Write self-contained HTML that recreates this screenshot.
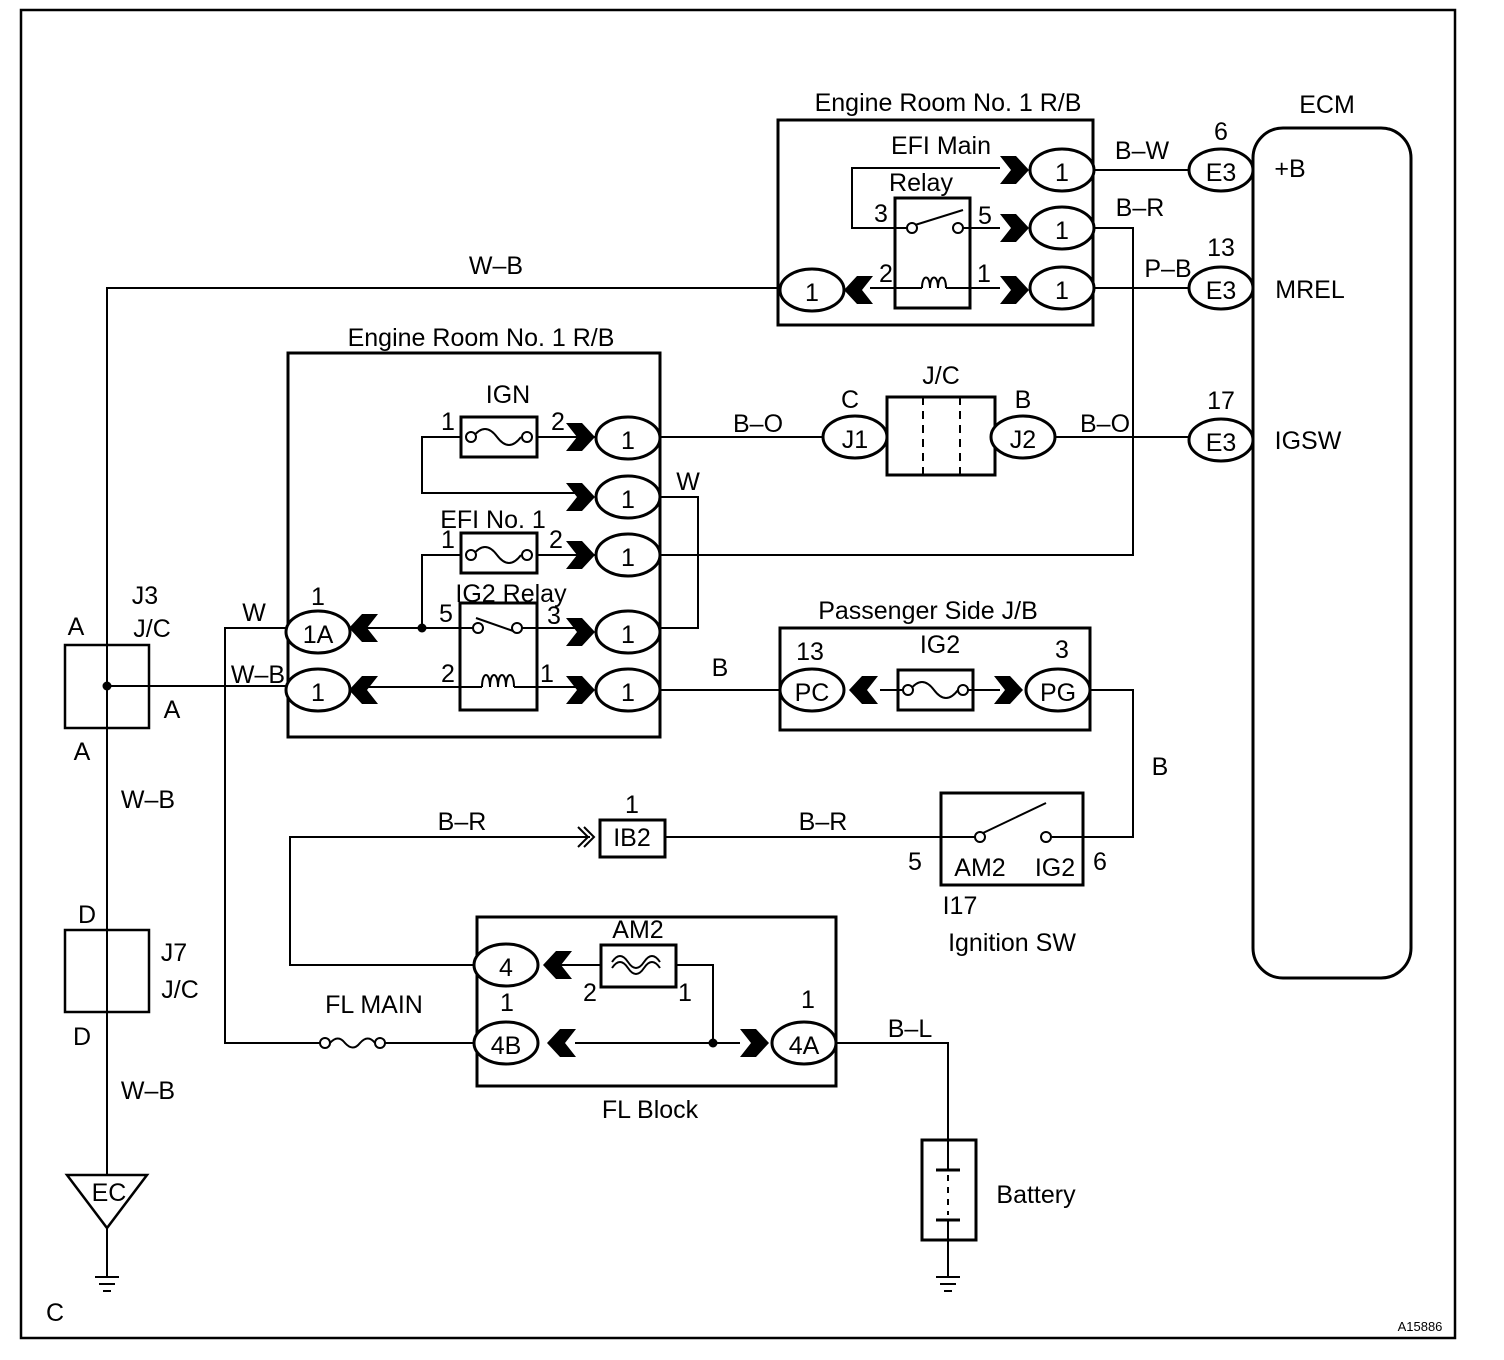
<!DOCTYPE html>
<html><head><meta charset="utf-8"><style>
body{margin:0;background:#fff}
svg{display:block}
text{font-family:"Liberation Sans",Arial,sans-serif;font-size:25px;fill:#000}
.t{text-anchor:middle}
</style></head><body>
<svg width="1504" height="1360" viewBox="0 0 1504 1360" xmlns="http://www.w3.org/2000/svg">
<defs>
<polygon id="cr" points="-16,-14 0,-14 13,0 0,14 -16,14 -5,0" fill="#000"/>
<polygon id="cl" points="16,-14 0,-14 -13,0 0,14 16,14 5,0" fill="#000"/>
<ellipse id="ov" cx="0" cy="0" rx="32" ry="21" fill="#fff" stroke="#000" stroke-width="3"/>
</defs>
<g fill="none" stroke="#000" stroke-width="2">
<rect x="21" y="10" width="1434" height="1328" stroke-width="2.5"/>
<rect x="778" y="120" width="315" height="205" stroke-width="3"/>
<rect x="895" y="198" width="75" height="110" stroke-width="3"/>
<polyline points="1000,168 852,168 852,228 907,228"/>
<line x1="963" y1="228" x2="1000" y2="228"/>
<line x1="915" y1="225" x2="963" y2="210"/>
<polyline points="870,288 922,288"/><polyline points="946,288 1000,288"/>
<path d="M922,288 c0,-14 8,-14 8,0 c0,-14 8,-14 8,0 c0,-14 8,-14 8,0"/>
<line x1="1093" y1="170" x2="1190" y2="170"/>
<polyline points="1093,228 1133,228 1133,555 660,555"/>
<line x1="1093" y1="288" x2="1190" y2="288"/>
<rect x="1253" y="128" width="158" height="850" rx="30" stroke-width="3"/>
<polyline points="780,288 107,288 107,1175"/>
<rect x="288" y="353" width="372" height="384" stroke-width="3"/>
<rect x="461" y="417" width="76" height="40" stroke-width="3"/>
<rect x="461" y="533" width="76" height="40" stroke-width="3"/>
<rect x="460" y="603" width="77" height="107" stroke-width="3"/>
<polyline points="600,437 537,437"/><polyline points="461,437 422,437 422,493 590,493"/>
<polyline points="600,555 537,555"/><polyline points="461,555 422,555 422,628 360,628"/>
<path d="M473,437 q12,-16 24,0 q12,16 24,0"/><path d="M473,555 q12,-16 24,0 q12,16 24,0"/>
<line x1="422" y1="628" x2="474" y2="628"/><line x1="522" y1="628" x2="590" y2="628"/>
<line x1="476" y1="618" x2="516" y2="632"/>
<line x1="360" y1="687" x2="482" y2="687"/><line x1="514" y1="687" x2="590" y2="687"/>
<path d="M482,687 c0,-16 8,-16 8,0 c0,-16 8,-16 8,0 c0,-16 8,-16 8,0 c0,-16 8,-16 8,0"/>
<polyline points="660,497 698,497 698,628 660,628"/>
<line x1="660" y1="437" x2="824" y2="437"/>
<rect x="887" y="397" width="108" height="78" stroke-width="3"/>
<line x1="923" y1="397" x2="923" y2="475" stroke-dasharray="8,6"/>
<line x1="960" y1="397" x2="960" y2="475" stroke-dasharray="8,6"/>
<line x1="1054" y1="437" x2="1190" y2="437"/>
<rect x="65" y="645" width="84" height="83" stroke-width="2.5"/>
<line x1="107" y1="686" x2="288" y2="686"/>
<polyline points="288,628 225,628 225,1043 320,1043"/>
<rect x="65" y="930" width="84" height="82" stroke-width="2.5"/>
<polygon points="67,1175 147,1175 107,1228" stroke-width="2.5"/>
<line x1="107" y1="1228" x2="107" y2="1276"/>
<line x1="95" y1="1277" x2="119" y2="1277"/><line x1="99" y1="1284" x2="115" y2="1284"/><line x1="103" y1="1291" x2="111" y2="1291"/>
<rect x="780" y="628" width="310" height="102" stroke-width="3"/>
<rect x="898" y="670" width="75" height="40" stroke-width="3"/>
<line x1="880" y1="690" x2="910" y2="690"/><line x1="963" y1="690" x2="1000" y2="690"/>
<path d="M910,690 q12,-16 24,0 q12,16 24,0"/>
<line x1="660" y1="690" x2="780" y2="690"/>
<polyline points="1090,690 1133,690 1133,837 1052,837"/>
<rect x="941" y="793" width="142" height="92" stroke-width="3"/>
<line x1="941" y1="837" x2="975" y2="837"/>
<line x1="983" y1="833" x2="1046" y2="803"/>
<line x1="665" y1="837" x2="941" y2="837"/>
<rect x="600" y="820" width="65" height="37" stroke-width="3"/>
<polyline points="590,837 290,837 290,965 475,965"/>
<polyline points="584,827 594,837 584,847"/><polyline points="578,827 588,837 578,847"/>
<rect x="477" y="917" width="359" height="169" stroke-width="3"/>
<rect x="601" y="945" width="75" height="42" stroke-width="3"/>
<line x1="560" y1="965" x2="601" y2="965"/>
<path d="M612,968 q8,-12 16,0 q8,12 16,0 q8,-12 16,0"/>
<path d="M612,962 q8,-12 16,0 q8,12 16,0 q8,-12 16,0"/>
<polyline points="676,965 713,965 713,1043"/>
<line x1="575" y1="1043" x2="740" y2="1043"/>
<line x1="385" y1="1043" x2="475" y2="1043"/>
<path d="M330,1043 q8,-9 15,0 q8,9 15,0 q8,-9 15,0"/>
<polyline points="836,1043 948,1043 948,1140"/>
<rect x="922" y="1140" width="54" height="100" stroke-width="3"/>
<line x1="948" y1="1140" x2="948" y2="1170"/>
<line x1="936" y1="1170" x2="960" y2="1170" stroke-width="3"/>
<line x1="948" y1="1175" x2="948" y2="1215" stroke-dasharray="6,6"/>
<line x1="936" y1="1220" x2="960" y2="1220" stroke-width="3"/>
<line x1="948" y1="1220" x2="948" y2="1276"/>
<line x1="936" y1="1277" x2="960" y2="1277"/><line x1="940" y1="1284" x2="956" y2="1284"/><line x1="944" y1="1291" x2="952" y2="1291"/>
</g>
<g fill="#fff" stroke="#000" stroke-width="2">
<circle cx="912" cy="228" r="5"/><circle cx="958" cy="228" r="5"/>
<circle cx="478" cy="628" r="5"/><circle cx="517" cy="628" r="5"/>
<circle cx="471" cy="437" r="5"/><circle cx="527" cy="437" r="5"/>
<circle cx="471" cy="555" r="5"/><circle cx="527" cy="555" r="5"/>
<circle cx="908" cy="690" r="5"/><circle cx="963" cy="690" r="5"/>
<circle cx="980" cy="837" r="5"/><circle cx="1046" cy="837" r="5"/>
<circle cx="325" cy="1043" r="5"/><circle cx="380" cy="1043" r="5"/>
</g>
<circle cx="107" cy="686" r="4.5"/><circle cx="422" cy="628" r="4.5"/><circle cx="713" cy="1043" r="4.5"/>
<use href="#cr" x="1016" y="170"/><use href="#cr" x="1016" y="228"/><use href="#cr" x="1016" y="290"/>
<use href="#cl" x="857" y="290"/>
<use href="#cr" x="582" y="437"/><use href="#cr" x="582" y="497"/><use href="#cr" x="582" y="555"/><use href="#cr" x="582" y="632"/><use href="#cr" x="582" y="690"/>
<use href="#cl" x="362" y="628"/><use href="#cl" x="362" y="690"/>
<use href="#cl" x="862" y="690"/><use href="#cr" x="1010" y="690"/>
<use href="#cl" x="556" y="965"/><use href="#cl" x="560" y="1043"/><use href="#cr" x="756" y="1043"/>
<use href="#ov" x="1062" y="170"/><use href="#ov" x="1062" y="228"/><use href="#ov" x="1062" y="288"/><use href="#ov" x="812" y="290"/>
<use href="#ov" x="1221" y="170"/><use href="#ov" x="1221" y="288"/><use href="#ov" x="1221" y="440"/>
<use href="#ov" x="628" y="438"/><use href="#ov" x="628" y="497"/><use href="#ov" x="628" y="555"/><use href="#ov" x="628" y="632"/><use href="#ov" x="628" y="690"/>
<use href="#ov" x="318" y="632"/><use href="#ov" x="318" y="690"/>
<use href="#ov" x="855" y="437"/><use href="#ov" x="1023" y="437"/>
<use href="#ov" x="812" y="690"/><use href="#ov" x="1058" y="690"/>
<use href="#ov" x="506" y="965"/><use href="#ov" x="506" y="1043"/><use href="#ov" x="804" y="1043"/>
<g class="t">
<text x="948" y="111">Engine Room No. 1 R/B</text>
<text x="941" y="154">EFI Main</text><text x="921" y="191">Relay</text>
<text x="881" y="222">3</text><text x="985" y="224">5</text><text x="886" y="282">2</text><text x="984" y="282">1</text>
<text x="1062" y="181">1</text><text x="1062" y="239">1</text><text x="1062" y="299">1</text><text x="812" y="301">1</text>
<text x="1142" y="159">B–W</text><text x="1140" y="216">B–R</text><text x="1168" y="277">P–B</text>
<text x="1221" y="140">6</text><text x="1221" y="256">13</text><text x="1221" y="409">17</text>
<text x="1221" y="181">E3</text><text x="1221" y="299">E3</text><text x="1221" y="451">E3</text>
<text x="1327" y="113">ECM</text><text x="1290" y="177">+B</text><text x="1310" y="298">MREL</text><text x="1308" y="449">IGSW</text>
<text x="496" y="274">W–B</text>
<text x="481" y="346">Engine Room No. 1 R/B</text>
<text x="508" y="403">IGN</text><text x="448" y="430">1</text><text x="558" y="430">2</text>
<text x="493" y="528">EFI No. 1</text><text x="448" y="548">1</text><text x="556" y="548">2</text>
<text x="511" y="602">IG2 Relay</text><text x="446" y="622">5</text><text x="554" y="624">3</text><text x="448" y="682">2</text><text x="547" y="682">1</text>
<text x="628" y="449">1</text><text x="628" y="508">1</text><text x="628" y="566">1</text><text x="628" y="643">1</text><text x="628" y="701">1</text>
<text x="318" y="643">1A</text><text x="318" y="701">1</text><text x="318" y="605">1</text>
<text x="688" y="490">W</text><text x="758" y="432">B–O</text><text x="1105" y="432">B–O</text>
<text x="850" y="408">C</text><text x="1023" y="408">B</text><text x="941" y="384">J/C</text>
<text x="855" y="448">J1</text><text x="1023" y="448">J2</text>
<text x="76" y="635">A</text><text x="145" y="604">J3</text><text x="152" y="637">J/C</text><text x="172" y="718">A</text><text x="82" y="760">A</text>
<text x="254" y="621">W</text><text x="258" y="683">W–B</text>
<text x="148" y="808">W–B</text><text x="87" y="923">D</text><text x="174" y="961">J7</text><text x="180" y="998">J/C</text><text x="82" y="1045">D</text><text x="148" y="1099">W–B</text>
<text x="109" y="1201">EC</text><text x="55" y="1321">C</text>
<text x="928" y="619">Passenger Side J/B</text><text x="810" y="660">13</text><text x="940" y="653">IG2</text><text x="1062" y="658">3</text>
<text x="812" y="701">PC</text><text x="1058" y="701">PG</text><text x="720" y="676">B</text><text x="1160" y="775">B</text>
<text x="462" y="830">B–R</text><text x="823" y="830">B–R</text><text x="632" y="813">1</text><text x="632" y="846">IB2</text>
<text x="915" y="870">5</text><text x="1100" y="870">6</text><text x="980" y="876">AM2</text><text x="1055" y="876">IG2</text>
<text x="960" y="914">I17</text><text x="1012" y="951">Ignition SW</text>
<text x="638" y="938">AM2</text><text x="506" y="976">4</text><text x="507" y="1011">1</text><text x="590" y="1001">2</text><text x="685" y="1001">1</text><text x="808" y="1008">1</text>
<text x="506" y="1054">4B</text><text x="804" y="1054">4A</text><text x="374" y="1013">FL MAIN</text>
<text x="910" y="1037">B–L</text><text x="650" y="1118">FL Block</text><text x="1036" y="1203">Battery</text>
<text x="1420" y="1331" style="font-size:13px">A15886</text>
</g>
</svg>
</body></html>
